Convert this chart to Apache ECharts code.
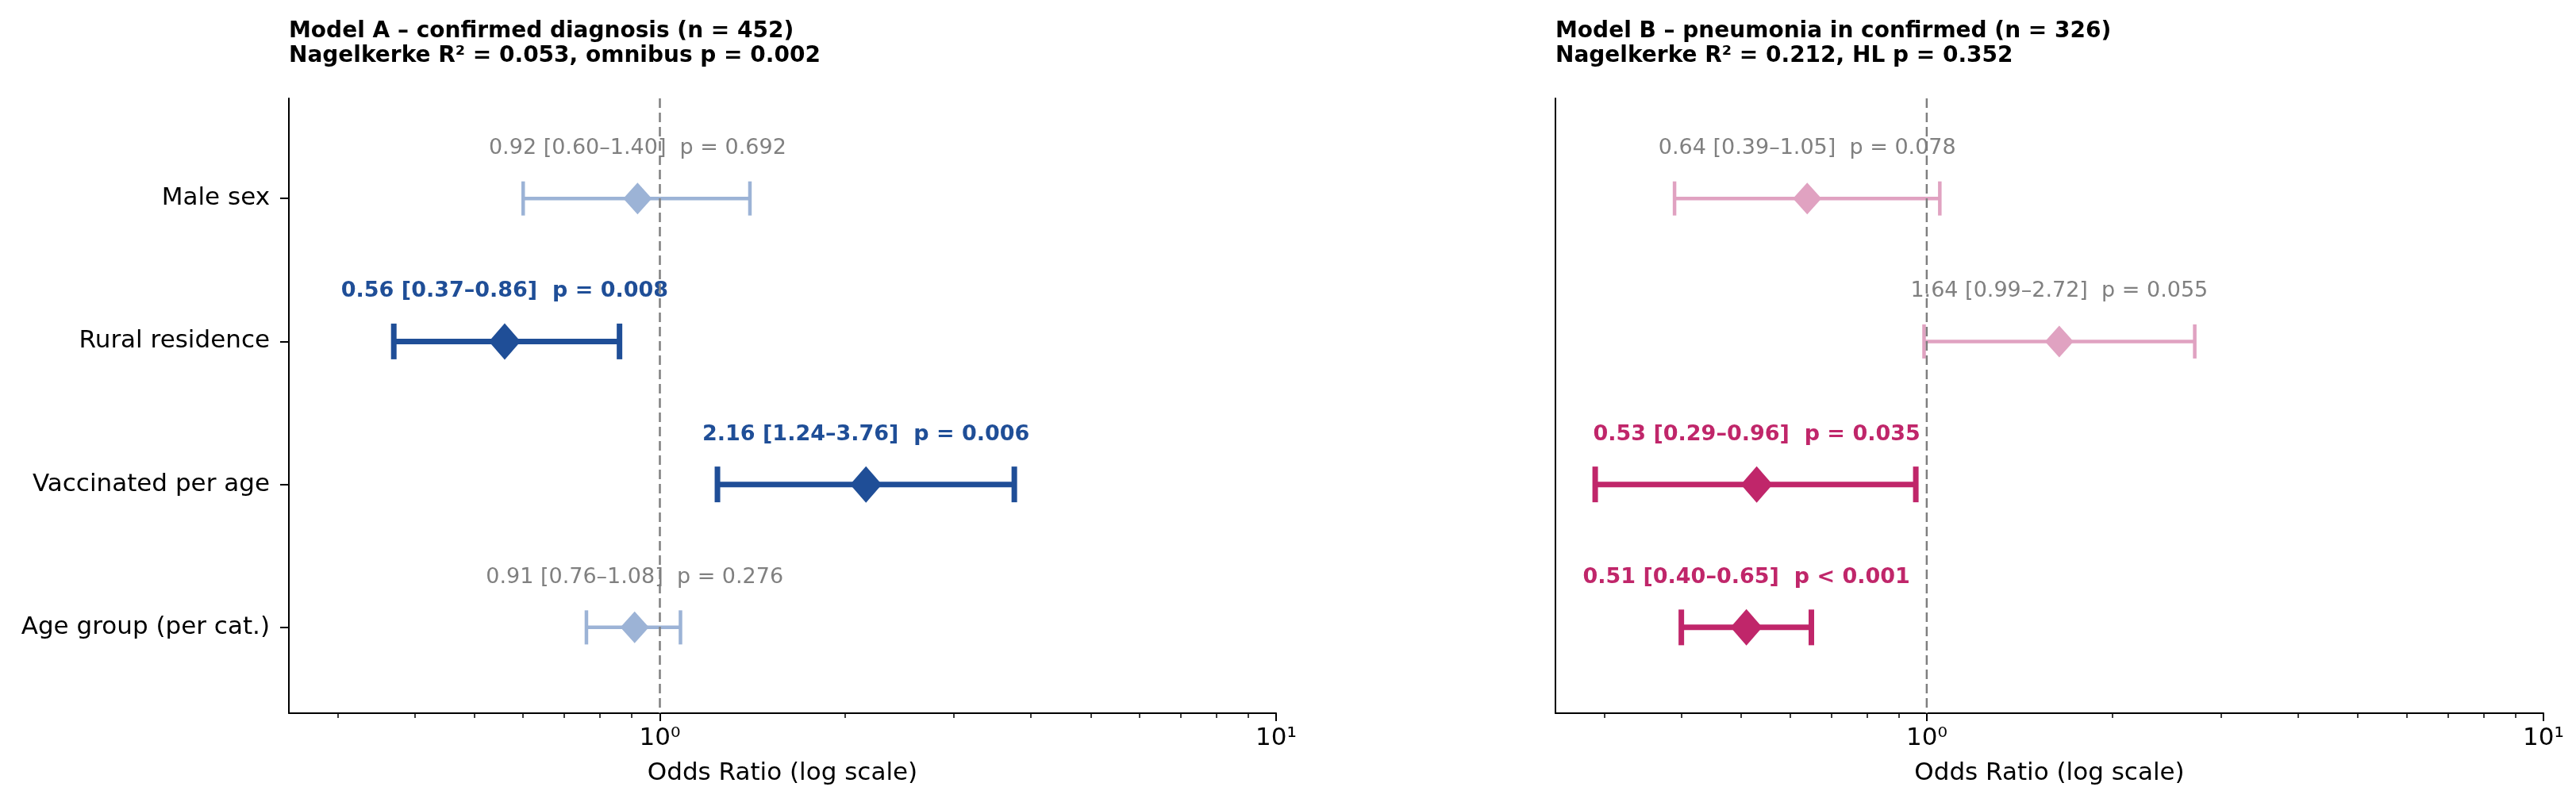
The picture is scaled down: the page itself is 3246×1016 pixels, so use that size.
<!DOCTYPE html>
<html>
<head>
<meta charset="UTF-8">
<title>Forest plot - Model A / Model B</title>
<style>
  html,body{margin:0;padding:0;background:#fff}
  #chart{width:3246px;height:1016px}
</style>
<script src="https://cdn.jsdelivr.net/npm/echarts@6/dist/echarts.min.js"></script>
</head>
<body>
<div id="chart"></div>
<script>
  // predictors, top to bottom
  var predictors = ['Male sex', 'Rural residence', 'Vaccinated per age', 'Age group (per cat.)'];

  // Model A - confirmed diagnosis
  var orA = [0.92, 0.56, 2.16, 0.91];
  var loA = [0.60, 0.37, 1.24, 0.76];
  var hiA = [1.40, 0.86, 3.76, 1.08];
  var pA  = ['0.692', '0.008', '0.006', '0.276'];

  // Model B - pneumonia in confirmed
  var orB = [0.64, 1.64, 0.53, 0.51];
  var loB = [0.39, 0.99, 0.29, 0.40];
  var hiB = [1.05, 2.72, 0.96, 0.65];
  var pB  = ['0.078', '0.055', '0.035', '<0.001'];

  var titleA = 'Model A \u2013 confirmed diagnosis (n = 452)\nNagelkerke R\u00b2 = 0.053, omnibus p = 0.002';
  var titleB = 'Model B \u2013 pneumonia in confirmed (n = 326)\nNagelkerke R\u00b2 = 0.212, HL p = 0.352';

  // x ticks (log scale)
  var majorTicks = [1, 10];
  var minorTicks = [0.3, 0.4, 0.5, 0.6, 0.7, 0.8, 0.9, 2, 3, 4, 5, 6, 7, 8, 9];
  var refValue = 1;

  var X_MIN = 0.25, X_MAX = 10, Y_MIN = -0.7, Y_MAX = 3.6;
  var FONT = '"DejaVu Sans", sans-serif';

  var models = [
    { or: orA, lo: loA, hi: hiA, p: pA, sig: '#1f4e97', ns: '#9cb3d6' },
    { or: orB, lo: loB, hi: hiB, p: pB, sig: '#c0266a', ns: '#e0a2c1' }
  ];

  function isSig(s) {
    return s.charAt(0) === '<' || parseFloat(s) < 0.05;
  }

  function pText(s) {
    return s.charAt(0) === '<' ? 'p < ' + s.slice(1) : 'p = ' + s;
  }

  function supLabel(v) {
    var sup = '\u2070\u00b9\u00b2\u00b3\u2074\u2075\u2076\u2077\u2078\u2079';
    var e = Math.round(Math.log10(v));
    var s = String(Math.abs(e)).split('').map(function (d) { return sup.charAt(+d); }).join('');
    return '10' + (e < 0 ? '\u207b' : '') + s;
  }

  function makeRender(m) {
    return function (params, api) {
      var i = params.dataIndex;
      var y = api.value(3);
      var c = api.coord([api.value(0), y]);
      var l = api.coord([api.value(1), y]);
      var h = api.coord([api.value(2), y]);
      var sig = isSig(m.p[i]);
      var col = sig ? m.sig : m.ns;
      var lw = sig ? 7 : 4.5;
      var capH = sig ? 45 : 43;
      var hw = sig ? 20 : 18, hh = sig ? 23 : 20;
      var label = m.or[i].toFixed(2) + ' [' + m.lo[i].toFixed(2) + '\u2013' + m.hi[i].toFixed(2) + ']  ' + pText(m.p[i]);
      return {
        type: 'group',
        children: [
          { type: 'line', shape: { x1: l[0], y1: c[1], x2: h[0], y2: c[1] }, style: { stroke: col, lineWidth: lw } },
          { type: 'line', shape: { x1: l[0], y1: c[1] - capH / 2, x2: l[0], y2: c[1] + capH / 2 }, style: { stroke: col, lineWidth: lw } },
          { type: 'line', shape: { x1: h[0], y1: c[1] - capH / 2, x2: h[0], y2: c[1] + capH / 2 }, style: { stroke: col, lineWidth: lw } },
          { type: 'polygon', shape: { points: [[c[0], c[1] - hh], [c[0] + hw, c[1]], [c[0], c[1] + hh], [c[0] - hw, c[1]]] }, style: { fill: col } },
          {
            type: 'text', x: c[0], y: c[1] - 63,
            style: {
              text: label, align: 'center', verticalAlign: 'middle',
              fill: sig ? col : '#808080',
              fontSize: 27, fontWeight: sig ? 'bold' : 'normal', fontFamily: FONT
            }
          }
        ]
      };
    };
  }

  function refRender(params, api) {
    var top = api.coord([api.value(0), Y_MIN]);
    var bot = api.coord([api.value(0), Y_MAX]);
    return {
      type: 'line',
      shape: { x1: top[0], y1: top[1], x2: bot[0], y2: bot[1] },
      style: { stroke: '#7f7f7f', lineWidth: 2.5, lineDash: [12, 6] }
    };
  }

  var grids = [
    { left: 364, top: 124, width: 1244, height: 775 },
    { left: 1960, top: 124, width: 1245, height: 775 }
  ];

  var xAxes = [], yAxes = [], series = [];
  grids.forEach(function (g, gi) {
    xAxes.push({
      gridIndex: gi, type: 'log', logBase: 10, min: X_MIN, max: X_MAX, position: 'bottom',
      name: 'Odds Ratio (log scale)', nameLocation: 'middle', nameGap: 60,
      nameTextStyle: { fontSize: 31, color: '#000', fontFamily: FONT },
      axisLine: { onZero: false, lineStyle: { color: '#000', width: 2 } },
      axisTick: { length: 10, customValues: majorTicks, lineStyle: { color: '#000', width: 2 } },
      axisLabel: { customValues: majorTicks, formatter: supLabel, fontSize: 31, color: '#000', margin: 16, fontFamily: FONT },
      splitLine: { show: false }
    });
    xAxes.push({
      gridIndex: gi, type: 'log', logBase: 10, min: X_MIN, max: X_MAX, position: 'bottom',
      axisLine: { show: false, onZero: false },
      axisTick: { length: 6, customValues: minorTicks, lineStyle: { color: '#000', width: 1.5 } },
      axisLabel: { show: false },
      splitLine: { show: false }
    });
    yAxes.push({
      gridIndex: gi, type: 'value', inverse: true, min: Y_MIN, max: Y_MAX, position: 'left',
      axisLine: { show: true, onZero: false, lineStyle: { color: '#000', width: 2 } },
      axisTick: { show: gi === 0, length: 11, customValues: [0, 1, 2, 3], lineStyle: { color: '#000', width: 2 } },
      axisLabel: {
        show: gi === 0, customValues: [0, 1, 2, 3], margin: 24,
        fontSize: 31, color: '#000', fontFamily: FONT,
        formatter: function (v) { return predictors[Math.round(v)] || ''; }
      },
      splitLine: { show: false }
    });

    var m = models[gi];
    series.push({
      type: 'custom', xAxisIndex: gi * 2, yAxisIndex: gi, z: 2,
      renderItem: makeRender(m),
      encode: { x: [0, 1, 2], y: 3 },
      data: predictors.map(function (name, i) { return [m.or[i], m.lo[i], m.hi[i], i]; }),
      clip: false, silent: true
    });
    series.push({
      type: 'custom', xAxisIndex: gi * 2, yAxisIndex: gi, z: 5,
      renderItem: refRender,
      encode: { x: 0, y: 1 },
      data: [[refValue, 0]],
      silent: true
    });
  });

  var chart = echarts.init(document.getElementById('chart'));
  chart.setOption({
    animation: false,
    backgroundColor: '#fff',
    textStyle: { fontFamily: FONT },
    title: [
      { text: titleA, left: 364, top: 24, padding: 0, textStyle: { fontSize: 28, fontWeight: 'bold', lineHeight: 31, color: '#000', fontFamily: FONT } },
      { text: titleB, left: 1960, top: 24, padding: 0, textStyle: { fontSize: 28, fontWeight: 'bold', lineHeight: 31, color: '#000', fontFamily: FONT } }
    ],
    grid: grids,
    xAxis: xAxes,
    yAxis: yAxes,
    series: series
  });
</script>
</body>
</html>
